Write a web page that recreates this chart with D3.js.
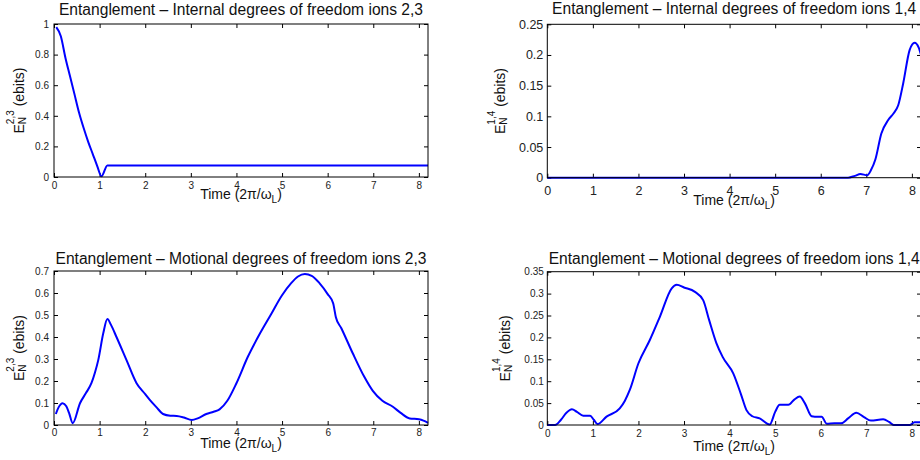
<!DOCTYPE html>
<html>
<head>
<meta charset="utf-8">
<script src="https://cdn.jsdelivr.net/npm/d3@7"></script>
<style>
  body { margin: 0; background: #fff; }
  text { font-family: "Liberation Sans", Arial, Helvetica, sans-serif; }
</style>
</head>
<body>
<div id="chart"></div>
<script>
/* eslint-disable */

// x axis (time in units of 2pi/omega_L), shared by all four panels
const xTicks = [0, 1, 2, 3, 4, 5, 6, 7, 8]
const xMax = 8.2

// panel titles
const titles = [
    'Entanglement \u2013 Internal degrees of freedom ions 2,3',
    'Entanglement \u2013 Internal degrees of freedom ions 1,4',
    'Entanglement \u2013 Motional degrees of freedom ions 2,3',
    'Entanglement \u2013 Motional degrees of freedom ions 1,4'
]
const ionPairs = ['2,3', '1,4', '2,3', '1,4']

// y tick values for each panel
const yTicksInt23 = [0, 0.2, 0.4, 0.6, 0.8, 1]
const yTicksInt14 = [0, 0.05, 0.1, 0.15, 0.2, 0.25]
const yTicksMot23 = [0, 0.1, 0.2, 0.3, 0.4, 0.5, 0.6, 0.7]
const yTicksMot14 = [0, 0.05, 0.1, 0.15, 0.2, 0.25, 0.3, 0.35]

// internal dof, ions 2,3
const tInt23 = [0.05, 0.15, 0.25, 0.35, 0.45, 0.55, 0.65, 0.75, 0.85, 0.95, 1.04, 1.17, 8.2]
const eInt23 = [0.98, 0.92, 0.78, 0.66, 0.54, 0.42, 0.32, 0.23, 0.15, 0.07, 0.005, 0.075, 0.075]

// internal dof, ions 1,4
const tInt14 = [0, 6.6, 6.75, 6.87, 7.02, 7.1, 7.2, 7.33, 7.48, 7.6, 7.7, 7.81, 7.95, 8.06, 8.15, 8.2]
const eInt14 = [0, 0, 0.003, 0.006, 0.004, 0.012, 0.03, 0.072, 0.094, 0.105, 0.118, 0.154, 0.208, 0.22, 0.212, 0.2]

// motional dof, ions 2,3
const tMot23 = [0.04, 0.1, 0.19, 0.27, 0.33, 0.41, 0.57, 0.7, 0.82, 0.9, 0.97, 1.08, 1.17, 1.25, 1.37, 1.59, 1.81, 2.0,
    2.1, 2.25, 2.39, 2.55, 2.69, 2.85, 3.02, 3.15, 3.34, 3.5, 3.63, 3.8, 4.0, 4.25, 4.5, 4.75, 5.0, 5.2, 5.35, 5.5,
    5.65, 5.82, 6.0, 6.12, 6.18, 6.3, 6.55, 6.8, 6.99, 7.2, 7.43, 7.6, 7.8, 8.0, 8.1, 8.2]
const eMot23 = [0.05, 0.08, 0.099, 0.085, 0.055, 0.008, 0.099, 0.145, 0.19, 0.24, 0.295, 0.417, 0.482, 0.455, 0.4, 0.295, 0.19, 0.14,
    0.114, 0.08, 0.05, 0.042, 0.041, 0.034, 0.023, 0.03, 0.05, 0.06, 0.071, 0.11, 0.19, 0.31, 0.41, 0.5, 0.59, 0.645, 0.675, 0.686,
    0.678, 0.645, 0.595, 0.553, 0.49, 0.44, 0.326, 0.22, 0.155, 0.11, 0.083, 0.055, 0.03, 0.026, 0.02, 0.01]

// motional dof, ions 1,4
const tMot14 = [0, 0.17, 0.3, 0.42, 0.54, 0.65, 0.79, 0.94, 1.02, 1.1, 1.3, 1.59, 1.7, 1.81, 2.0, 2.25, 2.47, 2.73, 2.84, 3.0,
    3.24, 3.42, 3.55, 3.71, 3.85, 4.08, 4.25, 4.37, 4.5, 4.66, 4.88, 5.0, 5.1, 5.29, 5.42, 5.54, 5.65, 5.8, 5.87, 6.02, 6.13,
    6.3, 6.45, 6.6, 6.78, 6.95, 7.1, 7.37, 7.5, 7.6, 7.95, 8.06, 8.2]
const eMot14 = [0, 0, 0.012, 0.028, 0.036, 0.03, 0.021, 0.021, 0.012, 0.002, 0.019, 0.038, 0.055, 0.08, 0.141, 0.194, 0.247, 0.312, 0.32, 0.314,
    0.304, 0.285, 0.24, 0.187, 0.155, 0.118, 0.07, 0.034, 0.02, 0.015, 0.001, 0.03, 0.046, 0.046, 0.058, 0.065, 0.05, 0.02, 0.019, 0.019, 0.003,
    0.004, 0.004, 0.015, 0.028, 0.018, 0.01, 0.013, 0.007, 0, 0, 0.006, 0.006]

const W = 920, H = 460

const svg = d3.select('#chart').append('svg')
    .attr('width', W)
    .attr('height', H)

// geometry of each panel (pixels)
const panels = [
    {l: 54, r: 428, t: 24, b: 177, yTicks: yTicksInt23, tt: tInt23, ee: eInt23, tick: 10, yPad: 5,
     titleY: 15, xLabY: 199, yLabX: 23.5, xTickBase: 189},
    {l: 547.3, r: 921, t: 24.3, b: 177.7, yTicks: yTicksInt14, tt: tInt14, ee: eInt14, tick: 12.5, yPad: 4,
     titleY: 13.5, xLabY: 205, yLabX: 505, xTickBase: 195},
    {l: 54, r: 428, t: 271, b: 425, yTicks: yTicksMot23, tt: tMot23, ee: eMot23, tick: 10, yPad: 5,
     titleY: 264, xLabY: 448, yLabX: 24, xTickBase: 436},
    {l: 547.3, r: 921, t: 271.7, b: 425, yTicks: yTicksMot14, tt: tMot14, ee: eMot14, tick: 10, yPad: 3.5,
     titleY: 264, xLabY: 450.5, yLabX: 510, xTickBase: 437}
]

const fmt = d3.format('~g')

panels.forEach(function (p, i) {
    const x = d3.scaleLinear().domain([0, xMax]).range([p.l, p.r])
    const y = d3.scaleLinear().domain([0, d3.max(p.yTicks)]).range([p.b, p.t])

    const g = svg.append('g').attr('class', 'panel' + i)

    // bottom axis, ticks pointing inward
    const bottom = g.append('g')
        .attr('transform', 'translate(0,' + p.b + ')')
        .call(d3.axisBottom(x).tickValues(xTicks).tickSize(-4)
            .tickPadding(p.xTickBase - p.b - 0.71 * p.tick).tickFormat(fmt))
    const left = g.append('g')
        .attr('transform', 'translate(' + p.l + ',0)')
        .call(d3.axisLeft(y).tickValues(p.yTicks).tickSize(-4)
            .tickPadding(p.yPad).tickFormat(fmt))
    const top = g.append('g')
        .attr('transform', 'translate(0,' + p.t + ')')
        .call(d3.axisTop(x).tickValues(xTicks).tickSize(-4).tickFormat(''))
    const right = g.append('g')
        .attr('transform', 'translate(' + p.r + ',0)')
        .call(d3.axisRight(y).tickValues(p.yTicks).tickSize(-4).tickFormat(''))

    ;[bottom, left, top, right].forEach(function (a) {
        a.select('.domain').remove()
        a.selectAll('.tick line').attr('stroke', '#000').attr('stroke-width', 1)
        a.selectAll('.tick text')
            .attr('fill', '#222')
            .attr('font-size', p.tick)
            .style('font-family', '"Liberation Sans", Arial, sans-serif')
    })

    // data line
    const pts = p.tt.map(function (t, k) { return [t, p.ee[k]] })
    g.append('path')
        .datum(pts)
        .attr('fill', 'none')
        .attr('stroke', '#0000ff')
        .attr('stroke-width', 2)
        .attr('stroke-linejoin', 'round')
        .attr('d', d3.line()
            .x(function (d) { return x(d[0]) })
            .y(function (d) { return y(d[1]) })
            .curve(d3.curveMonotoneX))

    // box
    g.append('rect')
        .attr('x', p.l).attr('y', p.t)
        .attr('width', p.r - p.l).attr('height', p.b - p.t)
        .attr('fill', 'none').attr('stroke', '#000').attr('stroke-width', 1)

    // title
    g.append('text')
        .attr('x', (p.l + p.r) / 2)
        .attr('y', p.titleY)
        .attr('text-anchor', 'middle')
        .attr('font-size', 15.6)
        .attr('fill', '#111')
        .text(titles[i])

    // x label: Time (2pi/omega_L)
    const xl = g.append('text')
        .attr('x', (p.l + p.r) / 2)
        .attr('y', p.xLabY)
        .attr('text-anchor', 'middle')
        .attr('font-size', 14)
        .attr('fill', '#111')
    xl.append('tspan').text('Time (2\u03c0/\u03c9')
    xl.append('tspan').attr('font-size', 10).attr('dy', 4).text('L')
    xl.append('tspan').attr('dy', -4).text(')')

    // y label: E_N^{i,j} (ebits)
    const yl = g.append('text')
        .attr('transform', 'translate(' + p.yLabX + ',' + (p.t + p.b) / 2 + ') rotate(-90)')
        .attr('text-anchor', 'middle')
        .attr('font-size', 14)
        .attr('fill', '#111')
    yl.append('tspan').text('E')
    yl.append('tspan').attr('font-size', 10).attr('dy', 2).text('N')
    yl.append('tspan').attr('font-size', 10).attr('dx', -7.2).attr('dy', -12).text(ionPairs[i])
    yl.append('tspan').attr('dy', 10).text(' (ebits)')
})
</script>
</body>
</html>
